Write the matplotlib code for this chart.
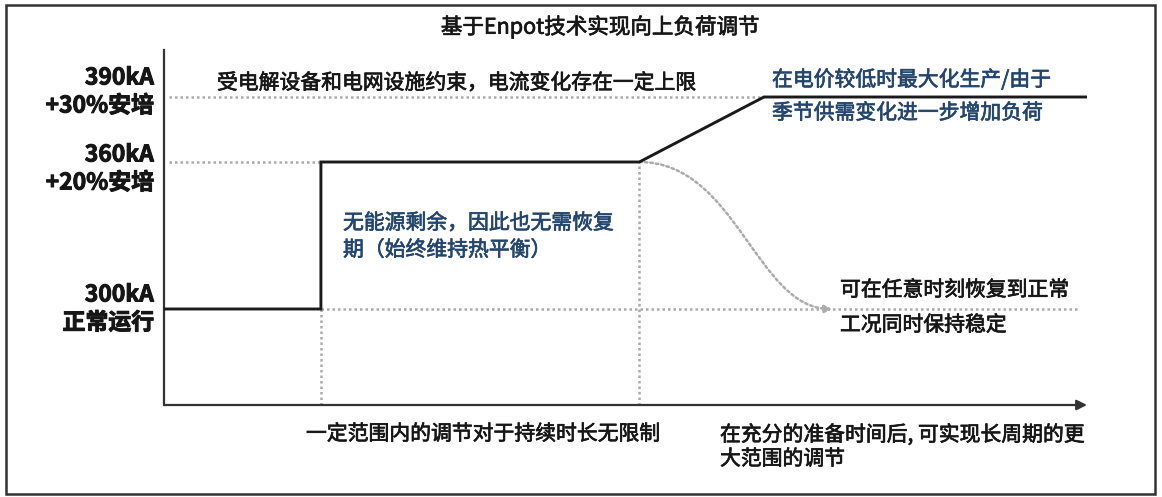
import numpy as np
import matplotlib
matplotlib.use('Agg')
import matplotlib.pyplot as plt
import matplotlib.patheffects as pe
from matplotlib.patches import Rectangle, FancyArrowPatch
from matplotlib.path import Path

plt.rcParams['font.family'] = ['Noto Sans CJK SC', 'DejaVu Sans']

# current path (time in arbitrary units, current in kA)
t_path = [0, 17, 17, 51.5, 65, 100]
i_path = [300, 300, 360, 360, 390, 390]

levels = [300, 360, 390]
level_labels = ['300kA\n正常运行', '360kA\n+20%安培', '390kA\n+30%安培']

title = '基于Enpot技术实现向上负荷调节'
note_limit = '受电解设备和电网设施约束，电流变化存在一定上限'
note_up = ['在电价较低时最大化生产/由于', '季节供需变化进一步增加负荷']
note_mid = ['无能源剩余，因此也无需恢复', '期（始终维持热平衡）']
note_back = ['可在任意时刻恢复到正常', '工况同时保持稳定']
note_short = '一定范围内的调节对于持续时长无限制'
note_long = ['在充分的准备时间后, 可实现长周期的更', '大范围的调节']

W, H = 1162, 497
BLUE = '#24466e'
DOT = '#ababab'
DARK = '#333333'
INK = '#161616'

fig = plt.figure(figsize=(W / 100, H / 100), dpi=100)


def fx(x):
    return x / W


def fy(y):
    return 1 - y / H


ax = fig.add_axes([fx(164), fy(405), (1087 - 164) / W, (405 - 50) / H])

# schematic (non uniform) current axis
ka_pts = [260, 300, 360, 390, 410]
px_pts = [0, 96, 243, 308, 355]
ax.set_yscale('function', functions=(lambda v: np.interp(v, ka_pts, px_pts),
                                      lambda p: np.interp(p, px_pts, ka_pts)))
ax.set_ylim(260, 410)
ax.set_xlim(0, 100)

dots = (0, (1, 1.2))
# horizontal guides
ax.plot([0.5, t_path[4]], [levels[2]] * 2, color=DOT, lw=1.8, ls=dots)
ax.plot([0.5, t_path[1]], [levels[1]] * 2, color=DOT, lw=1.8, ls=dots)
ax.plot([t_path[1], 99.2], [levels[0]] * 2, color=DOT, lw=1.8, ls=dots)
# vertical guides
ax.plot([t_path[1]] * 2, [260, levels[0]], color=DOT, lw=1.8, ls=dots)
ax.plot([t_path[3]] * 2, [260, levels[1]], color=DOT, lw=1.8, ls=dots)

# main path
ax.plot(t_path, i_path, color='#1a1a1a', lw=2.1, solid_joinstyle='miter', zorder=5)

# curved return arrow
verts = [(t_path[3], levels[1]), (62, levels[1]), (64.2, levels[0]), (72.4, levels[0])]
codes = [Path.MOVETO, Path.CURVE4, Path.CURVE4, Path.CURVE4]
arr = FancyArrowPatch(path=Path(verts, codes), arrowstyle='-|>', mutation_scale=11,
                      color=DOT, lw=1.8, linestyle=dots, shrinkA=0, shrinkB=0)
ax.add_patch(arr)

for s in ['top', 'right', 'bottom']:
    ax.spines[s].set_visible(False)
ax.spines['left'].set_color(DARK)
ax.spines['left'].set_linewidth(1.6)
ax.set_xticks([])
ax.set_yticks([])
ax.minorticks_off()
ax.set_yticks([], minor=True)
ax.annotate('', xy=(1.0, 0), xytext=(0, 0), xycoords='axes fraction',
            arrowprops=dict(arrowstyle='-|>', color=DARK, lw=1.6,
                            mutation_scale=15, shrinkA=0, shrinkB=0))

# level labels
label_y = [309, 169, 92]
for lab, y in zip(level_labels, label_y):
    fig.text(fx(154), fy(y), lab, ha='right', va='center', fontsize=16.5,
             fontweight='bold', color=INK, linespacing=1.28, multialignment='right',
             path_effects=[pe.withStroke(linewidth=0.7, foreground=INK)])


def note(x, y, s, color=INK, size=15, ha='left'):
    # slight stroke to mimic the medium weight of the original
    fig.text(fx(x), fy(y), s, ha=ha, va='center', fontsize=size, color=color,
             path_effects=[pe.withStroke(linewidth=0.5, foreground=color)])


note(600, 27, title, size=15.5, ha='center')
note(217, 83, note_limit)
note(772, 80, note_up[0], BLUE)
note(772, 113, note_up[1], BLUE)
note(343, 223, note_mid[0], BLUE)
note(343, 250, note_mid[1], BLUE)
note(840, 290, note_back[0])
note(840, 325, note_back[1])
note(306, 434, note_short)
note(720, 435, note_long[0])
note(720, 459, note_long[1])

# outer frame
fig.patches.append(Rectangle((fx(6), fy(494)), (1155 - 6) / W, (494 - 5) / H,
                             transform=fig.transFigure, fill=False,
                             edgecolor=DARK, lw=1.8))

fig.savefig('out.png', dpi=100)
